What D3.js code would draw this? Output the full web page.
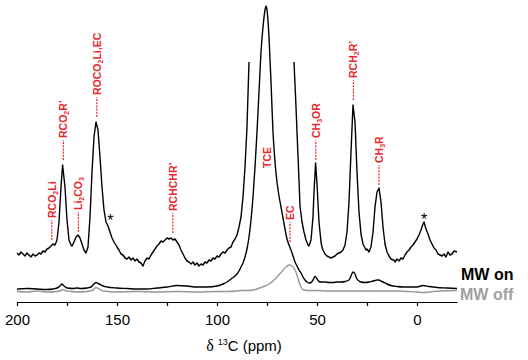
<!DOCTYPE html>
<html><head><meta charset="utf-8">
<script src="https://cdn.jsdelivr.net/npm/d3@7"></script>
<style>body{margin:0;background:#fff}svg{display:block}</style>
</head><body>
<svg id="c" width="528" height="360"></svg>
<script>
// ---- data (ppm, intensity a.u.) ----
const xTicks = [200,175,150,125,100,75,50,25,0];
const xTickLabels = ["200","","150","","100","","50","","0"];

// expanded MW-on trace (vertically magnified), null = clipped region
const mwOnZoomPpm = [200,199,198,197,196,195,194,193,192,191,190,189,188,187,186,185,184,183,182,181,180,179,178,177.2,176,175,174,173,172.5,171.5,170.5,169.5,168.5,167.5,166.5,165.5,164.5,163.5,162.5,161.5,160.5,159.5,158.5,157.5,156.5,155.5,154.5,153.5,152.5,151.5,150,149,148,147,146,145,144,143,142,141,140,139,138,137,136,135,134,133,132,131,130,129,128,127,126,125,124,123,122,121,120,119,118,117,116,115,114,113,112,111,110,109,108,107,106,105,104,103,102,101,100,99,98,97,96,95,94,93,92,91,90,89,88,87,86,85,84,
 72,
 61.5,60.5,60,59,58.5,57.5,56.5,55.5,54.5,54,53,52,51.5,50.7,50,49,48,47.5,47,46,45,44,43,42,41,40,39,38,37,36,35,34,33,32,31,30,29,28,27,26,25.5,25,24,23,22,21,20,19,18,17,16,15,14,13,12,11.5,11,10,9,8,7,6,5,4,3,2,1,0,-1,-2,-3,-3.5,-4.5,-5.5,-6.5,-7.5,-8.5,-9.5,-10.5,-11.5,-12.5,-13.5,-14.5,-15.5,-16.5,-17.5,-18.5,-20];
const mwOnZoomVal = [39,37,40,38,36,39,37,35,38,36,37,39,38,41,40,43,44,46,48,47,52,70,105,127,105,72,52,47,46,50,55,57,54,48,42,39,45,75,120,155,170,162,135,105,82,70,66,60,54,50,45,42,38,37,34,33,35,32,34,31,33,30,29,26,31,34,33,37,40,43,46,48,51,50,52,54,53,54,52,53,50,47,42,38,34,31,30,28,30,27,29,26,28,27,30,29,32,31,34,33,36,35,38,40,39,42,44,45,50,53,57,65,75,95,125,165,230,
 null,
 230,185,160,112,86,70,60,52,47,46,52,75,100,129,108,70,50,45,42,38,36,35,34,35,36,38,39,40,42,47,60,90,140,187,170,120,80,58,48,44,42,43,40,45,60,85,100,104,90,65,48,40,36,33,32,32,30,33,31,34,33,37,40,42,45,47,50,53,57,62,68,70,63,58,52,48,44,42,38,37,36,38,35,40,37,38,41,40];

// MW-on full scale trace
const mwOnPpm = [200,195,190,185,182,180,178.5,177.5,176.5,175,172,170,168,165,163,161.5,160.5,159,157,155,150,145,140,135,130,125,120,115,110,105,100,97,95,93,91,90,89,88,87,86,85,84,83,82,81,80,79,78,77,76,75.5,75,74,73,72,71,70,69,68,67,66,65,64,63,62,61,60,59,58,57,56,55,54,53,52,51,50,49,48,46,44,42,40,38,36,34,33,32,31,30,29,28,26,24,22,21,20,19,18,17,15,13,10,7,4,0,-3,-6,-10,-15,-20];
const mwOnVal = [3,3.5,3,2.5,3,4,6,8,6,4,3.5,4,3.5,4,5,8,9.5,8,6,5,4,3.5,3,3,4,5,6.5,6,5,5,6,8,10,13,16,18,21,25,29,35,43,55,72,95,125,160,200,240,265,282,286,282,255,210,160,130,110,96,85,74,63,53,47,42,36,30,26,22,19,15,12,10,9,9.5,12,15.5,13,10.5,10,10,9.5,9.5,10,10,10.5,12,16,20,18,13,11,10,9.5,10,11,11.5,12,12,11,10,8,6.5,5.5,5,5,5,6.5,5.5,4.5,4,3.5];

// MW-off trace
const mwOffPpm = [200,195,190,185,180,178,177,176,173,170,165,162,160.5,159,157,150,140,130,120,110,100,95,90,88,85,82,80,78,76,74,72,70,68,66,64,62.5,61,60,59,58,57,55,50,45,40,30,20,10,5,0,-3,-8,-12,-20];
const mwOffVal = [0.5,0,1,0,0.5,1.5,2.5,1.5,0.5,0,0.5,2,4.5,3,1,0,0.5,0,0.5,0,0.5,0.5,1,1.5,1.5,2,3,4.5,6,8,11,15,19.5,24,27,26,22,17,10,5,2.5,1.5,1.5,1,1,1,1,1,0.5,0,-0.5,0.5,1,1.5];

// peak assignments
const labelNames = [
  [["RCO"],["2",1],["Li"]],
  [["RCO"],["2",1],["R’"]],
  [["Li"],["2",1],["CO"],["3",1]],
  [["ROCO"],["2",1],["Li,EC"]],
  [["RCHCHR’"]],
  [["TCE"]],
  [["EC"]],
  [["CH"],["3",1],["OR"]],
  [["RCH"],["2",1],["R’"]],
  [["CH"],["3",1],["R"]]
];
const labelPpm = [182.6,176.8,169.3,160.1,122.1,75.1,63.5,50.6,31.8,19];
const labelVal = [52,132,60,175,59,124,50,132,192,107];   // bottom of marker (intensity units)
const labelDash = [true,true,true,true,true,false,true,true,true,true];
const starPpm = [153.3,-3.5];
const starVal = [66,67];
const legendNames = ["MW on","MW off"];

// ---- drawing ----
const svg = d3.select("#c");
const x = d3.scaleLinear().domain([200,-20]).range([17,457]);
const y = d3.scaleLinear().domain([0,290]).range([292,2]);

const lineLin = d3.line().defined(d=>d[1]!==null).x(d=>x(d[0])).y(d=>y(d[1]));
const lineSm = d3.line().x(d=>x(d[0])).y(d=>y(d[1])).curve(d3.curveMonotoneX);
const zip = (a,b)=>a.map((v,i)=>[v,b[i]]);

svg.append("path").attr("d", lineSm(zip(mwOffPpm,mwOffVal)))
  .attr("fill","none").attr("stroke","#979797").attr("stroke-width",1.4);
svg.append("path").attr("d", lineSm(zip(mwOnPpm,mwOnVal)))
  .attr("fill","none").attr("stroke","#000").attr("stroke-width",1.4);
svg.append("path").attr("d", lineLin(zip(mwOnZoomPpm,mwOnZoomVal)))
  .attr("fill","none").attr("stroke","#000").attr("stroke-width",1.4).attr("stroke-linejoin","round");

// axis
const ax = svg.append("g").attr("transform","translate(0,302)")
  .call(d3.axisBottom(x).tickValues(xTicks).tickFormat((d,i)=>xTickLabels[i]).tickSizeInner(4).tickSizeOuter(0).tickPadding(8));
ax.select(".domain").attr("stroke","#000").attr("stroke-width",1.2);
ax.selectAll(".tick line").attr("stroke","#000").attr("stroke-width",1.2);
ax.selectAll(".tick text").attr("font-family","'Liberation Sans',Arial,sans-serif").attr("font-size",15).attr("fill","#000");

// axis title
const t = svg.append("text").attr("x",244).attr("y",351).attr("text-anchor","middle")
  .attr("font-family","'Liberation Sans',Arial,sans-serif").attr("font-size",15).attr("fill","#000");
t.append("tspan").attr("font-family","'Liberation Serif','Times New Roman',serif").attr("font-size",16).text("δ ");
t.append("tspan").attr("font-size",9).attr("dy",-6).text("13");
t.append("tspan").attr("dy",6).text("C (ppm)");

// labels
const red = "#e8262c";
labelNames.forEach((parts,i)=>{
  const px = x(labelPpm[i]), py = y(labelVal[i]);
  let top = py;
  if (labelDash[i]) {
    svg.append("line").attr("x1",px).attr("x2",px).attr("y1",py).attr("y2",py-20)
      .attr("stroke",red).attr("stroke-width",1.2).attr("stroke-dasharray","2,1.2");
    top = py-22;
  }
  const tx = svg.append("text").attr("transform",`translate(${px+3.8},${top}) rotate(-90)`)
    .attr("font-family","'Liberation Sans',Arial,sans-serif").attr("font-weight","bold")
    .attr("font-size",10.5).attr("fill",red);
  let sub=false;
  parts.forEach(p=>{
    const s = tx.append("tspan").text(p[0]);
    if (p[1]) { s.attr("font-size",7).attr("dy",2); sub=true; }
    else if (sub) { s.attr("dy",-2); sub=false; }
  });
});

// asterisks
starPpm.forEach((p,i)=>{
  svg.append("text").attr("x",x(p)).attr("y",y(starVal[i])).attr("text-anchor","middle")
    .attr("font-family","'Liberation Sans',Arial,sans-serif").attr("font-size",16).attr("fill","#000").text("*");
});

// legend
svg.append("text").attr("x",461).attr("y",280).attr("font-family","'Liberation Sans',Arial,sans-serif")
  .attr("font-weight","bold").attr("font-size",16).attr("fill","#000").text(legendNames[0]);
svg.append("text").attr("x",460).attr("y",299.5).attr("font-family","'Liberation Sans',Arial,sans-serif")
  .attr("font-weight","bold").attr("font-size",16).attr("fill","#a0a0a0").text(legendNames[1]);
</script>
</body></html>
